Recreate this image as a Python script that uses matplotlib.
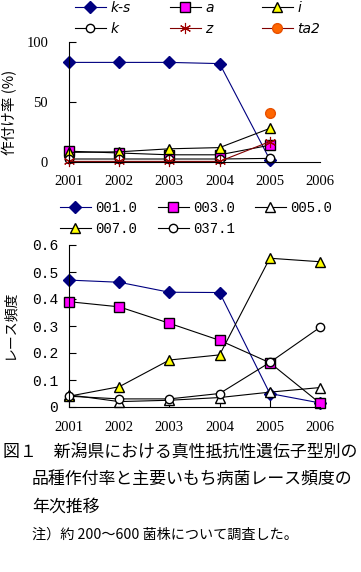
import numpy as np
import matplotlib
matplotlib.use("Agg")
import matplotlib.pyplot as plt

# -----------------------------------------------------------------------------
# Data
years = [2001, 2002, 2003, 2004, 2005]
years_race = [2001, 2002, 2003, 2004, 2005, 2006]
year_ticks = [2001, 2002, 2003, 2004, 2005, 2006]

# cultivar share (%) by true resistance gene
share_ks = [83, 83, 83, 82, 2]
share_a = [9, 7.5, 6, 6, 14]
share_i = [8, 8.5, 11, 12, 28]
share_k = [2.5, 2.5, 2.5, 2.5, 3]
share_z = [0.5, 0.5, 0.5, 0.5, 17]
share_ta2 = [np.nan, np.nan, np.nan, np.nan, 41]

# race frequency
race_001 = [0.47, 0.462, 0.425, 0.424, 0.05, 0.015]
race_003 = [0.39, 0.371, 0.31, 0.247, 0.164, 0.014]
race_005 = [0.045, 0.02, 0.025, 0.035, 0.055, 0.072]
race_007 = [0.04, 0.075, 0.174, 0.193, 0.551, 0.538]
race_037 = [0.04, 0.03, 0.03, 0.05, 0.165, 0.295]

W, H = 361, 572
fig = plt.figure(figsize=(W / 100, H / 100), dpi=100)

jp = ['Noto Sans CJK JP', 'DejaVu Sans']
asterisk = (6, 2, 0)

# -----------------------------------------------------------------------------
# Top chart
ax1 = fig.add_axes([69 / W, 1 - 162 / H, 251 / W, 120 / H])
top_series = [
    (share_ks, 'k-s', dict(color='#000080', marker='D', mfc='#000080', mec='#000080', ms=6)),
    (share_a, 'a', dict(color='black', marker='s', mfc='#FF00FF', mec='black', ms=6.5)),
    (share_i, 'i', dict(color='black', marker='^', mfc='#FFFF00', mec='black', ms=7.5)),
    (share_k, 'k', dict(color='black', marker='o', mfc='white', mec='black', ms=6)),
    (share_z, 'z', dict(color='#800000', marker=asterisk, mfc='#A00000', mec='#A00000', ms=8, mew=0.8)),
    (share_ta2, 'ta2', dict(color='#800000', marker='o', mfc='#FF6600', mec='#E85000', ms=7)),
]
top_handles = []
for vals, name, st in top_series:
    ln, = ax1.plot(years, vals, lw=0.8, clip_on=False, label=name, **st)
    top_handles.append(ln)

ax1.set_xlim(2001, 2006)
ax1.set_ylim(0, 100)
ax1.set_yticks([0, 50, 100])
ax1.set_xticks(year_ticks)
ax1.tick_params(axis='y', direction='in', length=5, width=0.8, pad=15,
                labelsize=10.5)
ax1.tick_params(axis='x', direction='in', length=0, pad=9.5, labelsize=10.5)
for lab in ax1.get_xticklabels() + ax1.get_yticklabels():
    lab.set_family('Liberation Serif')
for s in ['top', 'right']:
    ax1.spines[s].set_visible(False)
for s in ['left', 'bottom']:
    ax1.spines[s].set_linewidth(0.8)
fig.text(10 / W, 1 - 112 / H, '作付け率 (%)', rotation=90, ha='center',
         va='center', fontsize=10.5, family=jp)

# -----------------------------------------------------------------------------
# Bottom chart
ax2 = fig.add_axes([69 / W, 1 - 407 / H, 251 / W, 162 / H])
bottom_series = [
    (race_001, '001.0', dict(color='#000080', marker='D', mfc='#000080', mec='#000080', ms=6)),
    (race_003, '003.0', dict(color='black', marker='s', mfc='#FF00FF', mec='black', ms=7)),
    (race_005, '005.0', dict(color='black', marker='^', mfc='white', mec='black', ms=7.5)),
    (race_007, '007.0', dict(color='black', marker='^', mfc='#FFFF00', mec='black', ms=7.5)),
    (race_037, '037.1', dict(color='black', marker='o', mfc='white', mec='black', ms=6)),
]
bottom_handles = []
for vals, name, st in bottom_series:
    ln, = ax2.plot(years_race, vals, lw=0.8, clip_on=False, label=name, **st)
    bottom_handles.append(ln)

ax2.set_xlim(2001, 2006)
ax2.set_ylim(0, 0.6)
ax2.set_yticks([0, 0.1, 0.2, 0.3, 0.4, 0.5, 0.6])
ax2.set_yticklabels(['0', '0.1', '0.2', '0.3', '0.4', '0.5', '0.6'])
ax2.set_xticks(year_ticks)
ax2.tick_params(axis='y', direction='in', length=5, width=0.8, pad=8,
                labelsize=10.5)
ax2.tick_params(axis='x', direction='in', length=5, width=0.8, pad=10,
                labelsize=10.5)
for lab in ax2.get_yticklabels():
    lab.set_family('Liberation Mono')
for lab in ax2.get_xticklabels():
    lab.set_family('Liberation Serif')
for s in ['top', 'right']:
    ax2.spines[s].set_visible(False)
for s in ['left', 'bottom']:
    ax2.spines[s].set_linewidth(0.8)
fig.text(9 / W, 1 - 324 / H, 'レース頻度', rotation=90, ha='center',
         va='center', fontsize=10, family=jp)

# -----------------------------------------------------------------------------
# Legends: one small legend per entry, laid out in a grid
def place_legend(handle, x, y, fontprops):
    fig.legend(handles=[handle], loc='center left',
               bbox_to_anchor=(x / W, 1 - y / H), frameon=False,
               borderpad=0, borderaxespad=0, handlelength=2.2,
               handletextpad=0.35, numpoints=1, prop=fontprops)

top_pos = [(75, 8), (170, 8), (262, 8), (75, 29), (170, 29), (262, 29)]
for h, (x, y) in zip(top_handles, top_pos):
    place_legend(h, x, y, dict(family='DejaVu Sans', style='italic', size=10))

bottom_pos = [(60, 208), (158, 208), (255, 208), (60, 229), (158, 229)]
for h, (x, y) in zip(bottom_handles, bottom_pos):
    place_legend(h, x, y, dict(family='Liberation Mono', size=10))

# -----------------------------------------------------------------------------
# Caption
fig.text(3 / W, 1 - 452 / H, '図１　新潟県における真性抵抗性遺伝子型別の',
         ha='left', va='center', fontsize=12.2, family=jp)
fig.text(32 / W, 1 - 480 / H, '品種作付率と主要いもち病菌レース頻度の',
         ha='left', va='center', fontsize=12.2, family=jp)
fig.text(32 / W, 1 - 507 / H, '年次推移',
         ha='left', va='center', fontsize=12.2, family=jp)
fig.text(32 / W, 1 - 535 / H, '注）約 200～600 菌株について調査した。',
         ha='left', va='center', fontsize=10.2, family=jp)

fig.savefig('out.png', dpi=100)
